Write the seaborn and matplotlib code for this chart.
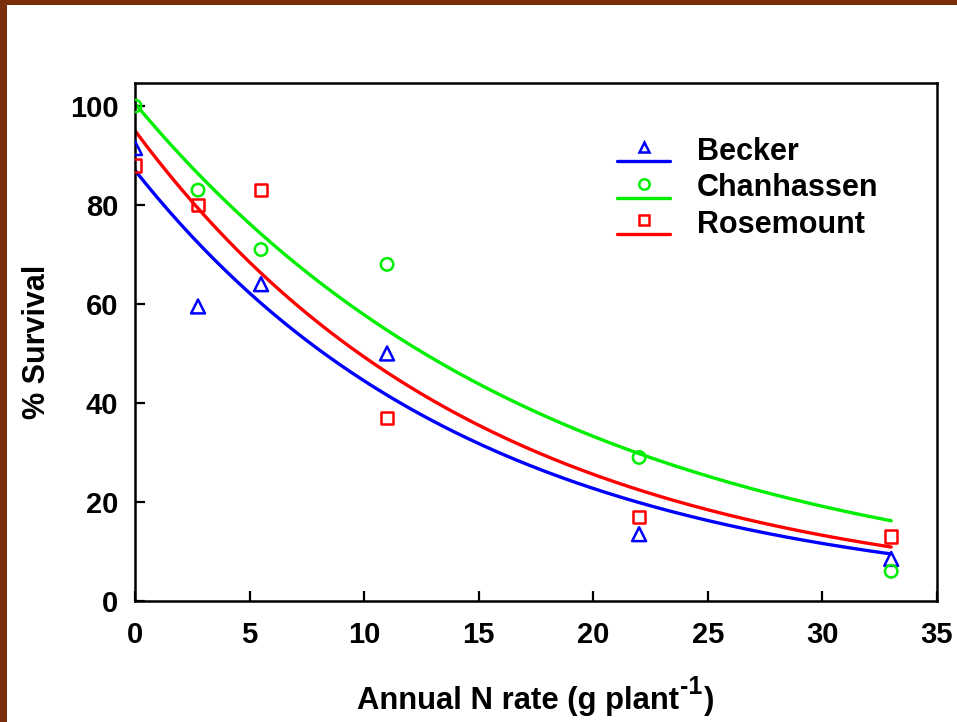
import numpy as np
import pandas as pd
import matplotlib
matplotlib.use("Agg")
import matplotlib.pyplot as plt
import seaborn as sns
from matplotlib.lines import Line2D
from matplotlib.legend_handler import HandlerBase

# ---- data ----
n_rate = [0, 2.75, 5.5, 11, 22, 33]
becker = [91.5, 59.5, 64, 50, 13.5, 8.5]
chanhassen = [100, 83, 71, 68, 29, 6]
rosemount = [88, 80, 83, 37, 17, 13]

sites = ["Becker", "Chanhassen", "Rosemount"]
colors = ["#0000ff", "#00ee00", "#ff0000"]
markers = ["^", "o", "s"]

# exponential fit parameters (y = a * exp(-b x))
fit_a = [87.0, 100.5, 95.0]
fit_b = [0.0671, 0.0553, 0.0656]

x_ticks = [0, 5, 10, 15, 20, 25, 30, 35]
y_ticks = [0, 20, 40, 60, 80, 100]

sns.set_theme(style="white")
plt.rcParams["font.family"] = ["Liberation Sans", "DejaVu Sans"]
plt.rcParams["font.weight"] = "bold"
for k in ["text.color", "axes.labelcolor", "xtick.color", "ytick.color"]:
    plt.rcParams[k] = "black"

W, H = 957, 722
fig = plt.figure(figsize=(W / 100, H / 100), dpi=100)
fig.patch.set_facecolor("#7a2e0c")
fig.add_artist(plt.Rectangle((7 / W, 0), 1, 1 - 5 / H, transform=fig.transFigure,
                             facecolor="white", edgecolor="none", zorder=0))
ax = fig.add_axes([135 / W, 1 - 601 / H, (937 - 135) / W, (601 - 82.7) / H])
ax.set_facecolor("white")

df = pd.DataFrame({"x": n_rate * 3,
                   "y": becker + chanhassen + rosemount,
                   "site": sum([[s] * len(n_rate) for s in sites], [])})

xs = np.linspace(0, 33, 200)
sizes = {"^": 100, "o": 80, "s": 80}
for s, c, m, a, b in zip(sites, colors, markers, fit_a, fit_b):
    curve = pd.DataFrame({"x": xs, "y": a * np.exp(-b * xs)})
    sns.lineplot(data=curve, x="x", y="y", color=c, lw=2.4, ax=ax, zorder=2)
    sub = df[df.site == s]
    sns.scatterplot(data=sub, x="x", y="y", marker=m, s=sizes[m],
                    facecolors="none", edgecolor=c, linewidth=1.8, ax=ax, zorder=3)

ax.set_xlim(0, 35)
ax.set_ylim(0, 104.7)
ax.set_xticks(x_ticks)
ax.set_yticks(y_ticks)
ax.tick_params(axis="both", direction="in", length=7, width=1.6, labelsize=21,
               colors="black", bottom=True, left=True, top=False, right=False)
ax.tick_params(axis="y", pad=12)
ax.tick_params(axis="x", pad=14.5)
for lab in ax.get_xticklabels() + ax.get_yticklabels():
    lab.set_fontweight("bold")
for sp in ax.spines.values():
    sp.set_visible(True)
    sp.set_color("black")
    sp.set_linewidth(1.8)

ax.set_xlabel("")
ax.set_ylabel("% Survival", fontsize=22, fontweight="bold", labelpad=13)

# x-axis label with a superscript, built from three text pieces
renderer = fig.canvas.get_renderer()
t1 = fig.text(357 / W, 1 - 709 / H, "Annual N rate (g plant", fontsize=22.3,
              fontweight="bold", ha="left", va="baseline")
e1 = t1.get_window_extent(renderer)
t2 = fig.text((e1.x1 + 1) / W, 1 - 694 / H, "-1", fontsize=18, fontweight="bold",
              ha="left", va="baseline")
e2 = t2.get_window_extent(renderer)
t3 = fig.text((e2.x1 + 1) / W, 1 - 709 / H, ")", fontsize=22.3, fontweight="bold",
              ha="left", va="baseline")


class LineMarkerAbove(HandlerBase):
    def create_artists(self, legend, orig_handle, xdescent, ydescent, width, height,
                       fontsize, trans):
        c = orig_handle.get_color()
        m = orig_handle.get_marker()
        y_line = -ydescent - 0.05 * height
        y_mark = -ydescent + 0.6 * height
        ln = Line2D([-xdescent, -xdescent + width], [y_line, y_line], color=c, lw=2.4,
                    transform=trans)
        mk = Line2D([-xdescent + width / 2], [y_mark], marker=m, color=c,
                    markerfacecolor="none", markeredgecolor=c, markersize=7.5,
                    markeredgewidth=1.8, linestyle="none", transform=trans)
        return [ln, mk]


handles = [Line2D([], [], color=c, marker=m) for c, m in zip(colors, markers)]
leg = ax.legend(handles, sites, handler_map={Line2D: LineMarkerAbove()},
                loc="center left", bbox_to_anchor=((617 - 135) / 802, (601 - 188.5) / 518.3),
                frameon=False, fontsize=22, handlelength=1.74, handletextpad=0.88,
                labelspacing=0.22, borderpad=0, borderaxespad=0)
for t in leg.get_texts():
    t.set_fontweight("bold")

fig.savefig("out.png", dpi=100, facecolor=fig.get_facecolor())
